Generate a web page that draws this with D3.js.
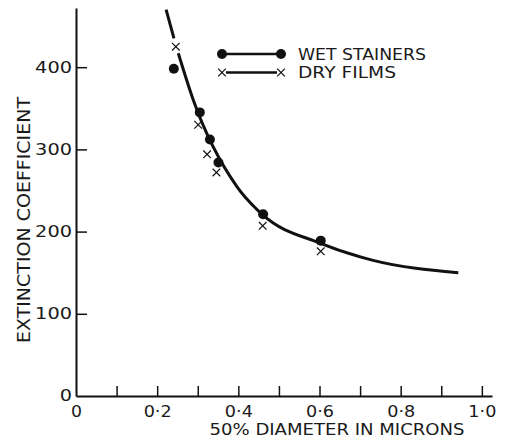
<!DOCTYPE html>
<html>
<head>
<meta charset="utf-8">
<script src="https://cdn.jsdelivr.net/npm/d3@7"></script>
<style>
  body { margin: 0; background: #fff; }
  svg { display: block; }
  text { font-family: "DejaVu Sans", sans-serif; fill: #1a1a1a; }
</style>
</head>
<body>
<div id="chart"></div>
<script>
// points
const wetDiameter = [0.241, 0.305, 0.330, 0.351, 0.461, 0.603];
const wetCoeff    = [398, 345, 312, 284, 221, 189];
const dryDiameter = [0.246, 0.301, 0.323, 0.346, 0.460, 0.603];
const dryCoeff    = [425, 330, 294, 272, 207, 176];

// smooth fitted curve (null = gap where it passes the top cross)
const curveDiameter = [0.222, 0.2414, null, 0.252, 0.289, 0.396, 0.461, 0.601, 0.732, 0.942];
const curveCoeff    = [470, 435, null, 417, 360, 255, 220, 186, 165, 150];

const xTicks = [0, 0.1, 0.2, 0.3, 0.4, 0.5, 0.6, 0.7, 0.8, 0.9, 1.0];
const yTicks = [0, 100, 200, 300, 400];

const legendItems = ['WET STAINERS', 'DRY FILMS'];

const width = 514, height = 440;

const svg = d3.select('#chart')
    .append('svg')
    .attr('width', width)
    .attr('height', height);

const x = d3.scaleLinear().domain([0, 1.025]).range([76, 492]);
const y = d3.scaleLinear().domain([0, 472]).range([396, 8]);

// the original lettering is a wide geometric face, so stretch text to its measured widths
function stretch(sel, len) {
    sel.attr('textLength', len).attr('lengthAdjust', 'spacingAndGlyphs');
}

// x axis
const xAxis = svg.append('g')
    .attr('transform', `translate(0,${y(0)})`)
    .call(d3.axisBottom(x)
        .tickValues(xTicks)
        .tickSizeInner(-10)
        .tickSizeOuter(0)
        .tickPadding(10)
        .tickFormat((d, i) => i % 2 === 0 ? (d === 0 ? '0' : d3.format('.1f')(d).replace('.', '\u00b7')) : ''));

// y axis
const yAxis = svg.append('g')
    .attr('transform', `translate(${x(0)},0)`)
    .call(d3.axisLeft(y)
        .tickValues(yTicks)
        .tickSizeInner(-11)
        .tickSizeOuter(0)
        .tickPadding(4));

[xAxis, yAxis].forEach(a => {
    a.select('.domain').attr('stroke', '#111').attr('stroke-width', 2);
    a.selectAll('.tick line').attr('stroke', '#111').attr('stroke-width', 1.5);
    a.selectAll('.tick text').attr('fill', '#1a1a1a');
});
xAxis.selectAll('.tick text')
    .style('font-size', '15px')
    .filter(function () { return this.textContent !== ''; })
    .each(function () {
        d3.select(this).call(stretch, this.textContent.length === 1 ? 11 : 28);
    });
yAxis.selectAll('.tick text')
    .style('font-size', '15.5px')
    .each(function () {
        d3.select(this).call(stretch, this.textContent.length * 12.3);
    });
xAxis.selectAll('.tick').filter(d => d === 0).select('line').remove();
yAxis.selectAll('.tick').filter(d => d === 0).select('line').remove();

// axis titles
svg.append('text')
    .attr('x', 337)
    .attr('y', 435)
    .attr('text-anchor', 'middle')
    .style('font-size', '16px')
    .call(stretch, 255)
    .text('50% DIAMETER IN MICRONS');

svg.append('text')
    .attr('transform', 'translate(30,220) rotate(-90)')
    .attr('text-anchor', 'middle')
    .style('font-size', '18px')
    .call(stretch, 246)
    .text('EXTINCTION COEFFICIENT');

// fitted curve
const curveData = curveDiameter.map((d, i) => ({ x: d, y: curveCoeff[i] }));
const line = d3.line()
    .defined(d => d.x !== null)
    .x(d => x(d.x))
    .y(d => y(d.y))
    .curve(d3.curveMonotoneX);

svg.append('path')
    .datum(curveData)
    .attr('fill', 'none')
    .attr('stroke', '#111')
    .attr('stroke-width', 3)
    .attr('d', line);

// wet stainers: dots
svg.append('g')
    .selectAll('circle')
    .data(wetDiameter.map((d, i) => ({ x: d, y: wetCoeff[i] })))
    .enter()
    .append('circle')
    .attr('cx', d => x(d.x))
    .attr('cy', d => y(d.y))
    .attr('r', 5)
    .attr('fill', '#111');

// dry films: crosses
const cross = d3.symbol().type(d3.symbolX).size(40);
svg.append('g')
    .selectAll('path')
    .data(dryDiameter.map((d, i) => ({ x: d, y: dryCoeff[i] })))
    .enter()
    .append('path')
    .attr('transform', d => `translate(${x(d.x)},${y(d.y)})`)
    .attr('d', cross)
    .attr('fill', 'none')
    .attr('stroke', '#111')
    .attr('stroke-width', 1.2);

// legend
const legendWidths = [128, 98];
const legend = svg.append('g').attr('transform', 'translate(222,54)');
legendItems.forEach((label, i) => {
    const row = legend.append('g').attr('transform', `translate(0,${i * 18.5})`);
    row.append('line')
        .attr('x1', 0).attr('x2', 59)
        .attr('stroke', '#111')
        .attr('stroke-width', 2.5);
    if (i === 0) {
        row.selectAll('circle').data([0, 59]).enter().append('circle')
            .attr('cx', d => d).attr('r', 5).attr('fill', '#111');
    } else {
        row.selectAll('path').data([0, 59]).enter().append('path')
            .attr('transform', d => `translate(${d},0)`)
            .attr('d', cross)
            .attr('fill', '#fff')
            .attr('stroke', '#111')
            .attr('stroke-width', 1.2);
        row.select('line').attr('x1', 4).attr('x2', 55);
    }
    row.append('text')
        .attr('x', 76)
        .attr('y', 5.8)
        .style('font-size', '16.5px')
        .call(stretch, legendWidths[i])
        .text(label);
});
</script>
</body>
</html>
